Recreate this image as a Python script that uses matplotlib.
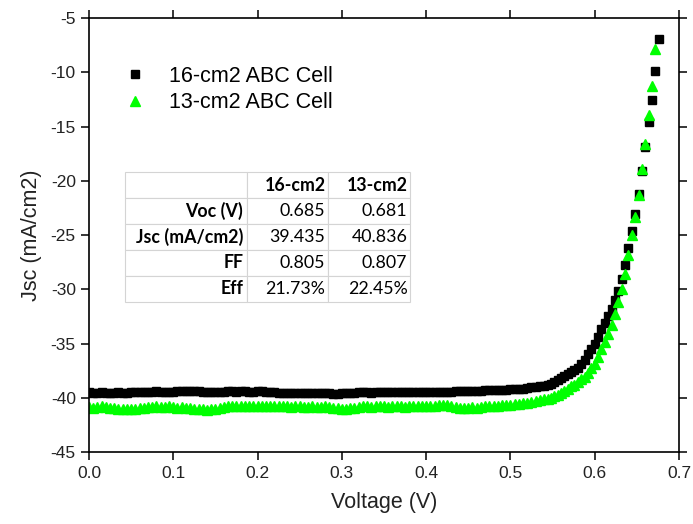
import numpy as np
import matplotlib
matplotlib.use("Agg")
import matplotlib.pyplot as plt

# voltage sweep shared by both cells on the flat part (V)
v_sweep = [0.000, 0.005, 0.010, 0.015, 0.020, 0.025, 0.030, 0.035, 0.040, 0.045,
           0.050, 0.055, 0.060, 0.065, 0.070, 0.075, 0.080, 0.085, 0.090, 0.095,
           0.100, 0.105, 0.110, 0.115, 0.120, 0.125, 0.130, 0.135, 0.140, 0.145,
           0.150, 0.155, 0.160, 0.165, 0.170, 0.175, 0.180, 0.185, 0.190, 0.195,
           0.200, 0.205, 0.210, 0.215, 0.220, 0.225, 0.230, 0.235, 0.240, 0.245,
           0.250, 0.255, 0.260, 0.265, 0.270, 0.275, 0.280, 0.285, 0.290, 0.295,
           0.300, 0.305, 0.310, 0.315, 0.320, 0.325, 0.330, 0.335, 0.340, 0.345,
           0.350, 0.355, 0.360, 0.365, 0.370, 0.375, 0.380, 0.385, 0.390, 0.395,
           0.400, 0.405, 0.410, 0.415, 0.420, 0.425, 0.430, 0.435, 0.440, 0.445,
           0.450, 0.455, 0.460, 0.465, 0.470, 0.475, 0.480, 0.485, 0.490, 0.495,
           0.500, 0.505, 0.510, 0.515, 0.520, 0.525, 0.530, 0.535, 0.540]

j16_flat = [-39.50, -39.55, -39.55, -39.50, -39.55, -39.60, -39.55, -39.50, -39.55, -39.55,
            -39.50, -39.50, -39.50, -39.50, -39.45, -39.45, -39.40, -39.45, -39.45, -39.50,
            -39.45, -39.40, -39.40, -39.35, -39.35, -39.40, -39.40, -39.45, -39.50, -39.50,
            -39.50, -39.45, -39.45, -39.40, -39.40, -39.45, -39.40, -39.40, -39.45, -39.45,
            -39.40, -39.40, -39.45, -39.50, -39.50, -39.55, -39.55, -39.60, -39.60, -39.60,
            -39.60, -39.60, -39.60, -39.60, -39.60, -39.55, -39.60, -39.60, -39.65, -39.65,
            -39.60, -39.60, -39.55, -39.55, -39.50, -39.50, -39.50, -39.55, -39.50, -39.50,
            -39.50, -39.45, -39.50, -39.50, -39.50, -39.45, -39.50, -39.50, -39.50, -39.50,
            -39.45, -39.45, -39.50, -39.50, -39.45, -39.45, -39.45, -39.40, -39.40, -39.40,
            -39.35, -39.35, -39.35, -39.35, -39.30, -39.30, -39.30, -39.30, -39.25, -39.25,
            -39.20, -39.20, -39.15, -39.15, -39.10, -39.05, -39.00, -38.95, -38.90]

j13_flat = [-40.85, -40.90, -40.85, -40.80, -40.85, -40.90, -40.95, -41.00, -41.05, -41.00,
            -41.05, -41.00, -40.95, -40.90, -40.85, -40.85, -40.80, -40.85, -40.85, -40.80,
            -40.85, -40.90, -40.85, -40.90, -40.95, -41.00, -41.05, -41.05, -41.10, -41.05,
            -41.00, -40.95, -40.85, -40.80, -40.80, -40.75, -40.80, -40.80, -40.75, -40.80,
            -40.80, -40.75, -40.75, -40.80, -40.80, -40.75, -40.80, -40.80, -40.85, -40.80,
            -40.80, -40.85, -40.85, -40.80, -40.85, -40.85, -40.80, -40.85, -40.90, -40.95,
            -41.00, -41.00, -40.95, -40.90, -40.85, -40.80, -40.80, -40.85, -40.80, -40.80,
            -40.80, -40.85, -40.80, -40.80, -40.80, -40.85, -40.80, -40.80, -40.80, -40.75,
            -40.80, -40.80, -40.75, -40.70, -40.65, -40.70, -40.80, -40.85, -40.90, -40.90,
            -40.90, -40.85, -40.90, -40.85, -40.80, -40.80, -40.75, -40.75, -40.70, -40.70,
            -40.65, -40.60, -40.55, -40.50, -40.45, -40.40, -40.30, -40.25, -40.15]

# knee / steep part near Voc
v16_knee = [0.544, 0.548, 0.552, 0.556, 0.560, 0.564, 0.568, 0.572, 0.576, 0.580,
            0.584, 0.588, 0.592, 0.596, 0.600, 0.604, 0.608, 0.612, 0.616, 0.620,
            0.624, 0.628, 0.632, 0.636, 0.640, 0.644, 0.648, 0.652, 0.656, 0.660,
            0.664, 0.668, 0.672, 0.676]
j16_knee = [-38.80, -38.70, -38.55, -38.40, -38.20, -38.00, -37.85, -37.65, -37.45, -37.25,
            -36.90, -36.50, -36.00, -35.50, -35.00, -34.40, -33.70, -33.10, -32.50, -31.80,
            -31.00, -30.15, -29.10, -27.80, -26.20, -24.60, -23.10, -21.20, -19.10, -16.90,
            -14.60, -12.60, -9.90, -6.90]

v13_knee = [0.544, 0.548, 0.552, 0.556, 0.560, 0.564, 0.568, 0.572, 0.576, 0.580,
            0.584, 0.588, 0.592, 0.596, 0.600, 0.604, 0.608, 0.612, 0.616, 0.620,
            0.624, 0.628, 0.632, 0.636, 0.640, 0.644, 0.648, 0.652, 0.656, 0.660,
            0.664, 0.668, 0.672]
j13_knee = [-40.10, -40.00, -39.85, -39.70, -39.55, -39.35, -39.15, -38.95, -38.80, -38.55,
            -38.30, -38.05, -37.70, -37.30, -36.85, -36.20, -35.50, -34.85, -34.15, -33.30,
            -32.30, -31.20, -30.00, -28.60, -26.80, -25.00, -23.30, -21.30, -18.90, -16.60,
            -13.90, -11.30, -7.90]

# summary table
table_cols = ["", "16-cm2", "13-cm2"]
table_rows = ["Voc (V)", "Jsc (mA/cm2)", "FF", "Eff"]
vals_16 = ["0.685", "39.435", "0.805", "21.73%"]
vals_13 = ["0.681", "40.836", "0.807", "22.45%"]

v16 = v_sweep + v16_knee
j16 = j16_flat + j16_knee
v13 = v_sweep + v13_knee
j13 = j13_flat + j13_knee

plt.rcParams['font.family'] = ['Liberation Sans', 'DejaVu Sans']
plt.rcParams['axes.unicode_minus'] = False

fig = plt.figure(figsize=(6.93, 5.24), dpi=100)
ax = fig.add_axes([0.1284, 0.1374, 0.8514, 0.8282])

ax.plot(v16, j16, linestyle='none', marker='s', markersize=6.2,
        color='black', label='16-cm2 ABC Cell')
ax.plot(v13, j13, linestyle='none', marker='^', markersize=7.2,
        color='#00ff00', label='13-cm2 ABC Cell')

ax.set_xlim(0, 0.7)
ax.set_ylim(-45, -5)
ax.set_xticks(np.arange(0, 0.71, 0.1))
ax.set_yticks(np.arange(-45, -4, 5))
ax.xaxis.set_major_formatter(matplotlib.ticker.FormatStrFormatter('%.1f'))
ax.tick_params(direction='out', length=6, width=1.1, labelsize=12.5,
               colors='black', labelcolor='#222222',
               top=True, right=True)
ax.tick_params(axis='x', pad=4)
for s in ax.spines.values():
    s.set_linewidth(1.2)

ax.set_xlabel('Voltage (V)', fontsize=15.5, color='#222222', labelpad=8)
ax.set_ylabel('Jsc (mA/cm2)', fontsize=15.5, color='#222222', labelpad=6)

ax.legend(loc='upper left', bbox_to_anchor=(0.045, 0.91), frameon=False,
          fontsize=15.5, handlelength=1.0, handletextpad=1.1,
          labelspacing=0.25, borderaxespad=0)

cell_text = [[table_rows[i], vals_16[i], vals_13[i]] for i in range(len(table_rows))]
tbl = ax.table(cellText=[table_cols] + cell_text, cellLoc='right',
               colWidths=[0.428, 0.284, 0.288],
               bbox=[0.061, 0.346, 0.483, 0.299])
tbl.auto_set_font_size(False)
for (r, c), cell in tbl.get_celld().items():
    cell.set_edgecolor('#d4d4d4')
    cell.set_linewidth(0.8)
    cell.set_facecolor('white')
    cell.PAD = 0.03
    txt = cell.get_text()
    txt.set_fontfamily(['Lato', 'DejaVu Sans'])
    txt.set_fontsize(12.8)
    txt.set_color('black')
    if r == 0 or c == 0:
        txt.set_fontweight('bold')

fig.savefig('out.png', dpi=100)
